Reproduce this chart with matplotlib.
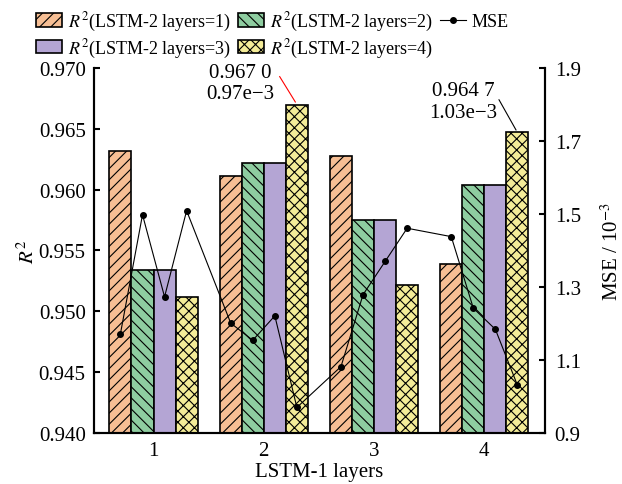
import numpy as np
import matplotlib
matplotlib.use('Agg')
import matplotlib.pyplot as plt

plt.rcParams['font.family'] = ['Liberation Serif', 'DejaVu Serif']
plt.rcParams['mathtext.fontset'] = 'stix'
plt.rcParams['hatch.linewidth'] = 0.8

# data
groups = [1, 2, 3, 4]
r2_l1 = [0.9632, 0.9611, 0.9628, 0.9539]
r2_l2 = [0.9534, 0.9622, 0.9575, 0.9604]
r2_l3 = [0.9534, 0.9622, 0.9575, 0.9604]
r2_l4 = [0.9512, 0.9670, 0.9522, 0.9647]
# MSE (x1e-3), one point per bar, group by group
mse = [1.172, 1.498, 1.273, 1.509,
       1.201, 1.154, 1.221, 0.970,
       1.082, 1.279, 1.370, 1.461,
       1.438, 1.242, 1.184, 1.031]

series = [r2_l1, r2_l2, r2_l3, r2_l4]
labels = [r'$R^2$(LSTM-2 layers=%d)' % k for k in range(1, 5)]
colors = ['#F6BE94', '#8ECDA0', '#B4A5D4', '#F4EC98']
hatches = ['///', '\\\\\\', '', 'xxx']

fs = 15

fig = plt.figure(figsize=(6.22, 4.85), dpi=100)
ax = fig.add_axes([0.1511, 0.1052, 0.7251, 0.7525])
ax2 = ax.twinx()

w = 0.2
x = np.array(groups, dtype=float)
offsets = [-1.5 * w, -0.5 * w, 0.5 * w, 1.5 * w]
bars = []
for s, lab, c, h, off in zip(series, labels, colors, hatches, offsets):
    b = ax.bar(x + off, s, width=w, color=c, edgecolor='black', linewidth=1.2,
               hatch=h, label=lab, zorder=2)
    bars.append(b)

mse_x = (x[:, None] + np.array(offsets)[None, :]).ravel()
ln, = ax2.plot(mse_x, mse, '-', color='black', lw=0.8, marker='o', ms=4,
               label='MSE', zorder=3)

yt = np.arange(0.940, 0.9701, 0.005)
ax.set_ylim(0.940, 0.970)
ax.set_yticks(yt)
ax.set_yticklabels(['%.3f' % v for v in yt])
ax2.set_ylim(0.9, 1.9)
ax2.set_yticks([0.9, 1.1, 1.3, 1.5, 1.7, 1.9])
ax.set_xlim(0.46, 4.55)
ax.set_xticks(groups)

for a in (ax, ax2):
    a.spines['top'].set_visible(False)
    for sp in a.spines.values():
        sp.set_linewidth(1.5)
ax.tick_params(axis='y', direction='in', length=4.5, width=1.5, labelsize=fs, pad=6)
ax2.tick_params(axis='y', direction='in', length=4.5, width=1.5, labelsize=fs, pad=7)
ax.tick_params(axis='x', length=0, labelsize=fs, pad=6)

ax.set_xlabel('LSTM-1 layers', fontsize=fs, labelpad=1)
ax.set_ylabel(r'$R^2$', fontsize=fs, labelpad=0)
ax2.set_ylabel(r'MSE / 10$^{-3}$', fontsize=fs, labelpad=15)

# annotations of best values
ax.annotate('', xy=(2 + offsets[3], r2_l4[1]), xytext=(2.13, 0.9695),
            arrowprops=dict(arrowstyle='-', color='red', lw=0.8), zorder=5)
ax.text(1.785, 0.9688, '0.967 0\n0.97e\u22123', ha='center', va='center',
        fontsize=fs, linespacing=1.15, zorder=5)
ax.annotate('', xy=(4 + offsets[3], r2_l4[3]), xytext=(4.12, 0.9676),
            arrowprops=dict(arrowstyle='-', color='black', lw=0.8), zorder=5)
ax.text(3.81, 0.96725, '0.964 7\n1.03e\u22123', ha='center', va='center',
        fontsize=fs, linespacing=1.15, zorder=5)

handles = [bars[0], bars[2], bars[1], bars[3], ln]
fig.legend(handles, [h.get_label() for h in handles], ncol=3,
           loc='upper center', bbox_to_anchor=(0.438, 1.0), frameon=False,
           fontsize=13, handlelength=1.45, handleheight=0.75, handletextpad=0.3,
           columnspacing=0.4, labelspacing=0.2, borderaxespad=0.2)

fig.savefig('out.png', dpi=100)
